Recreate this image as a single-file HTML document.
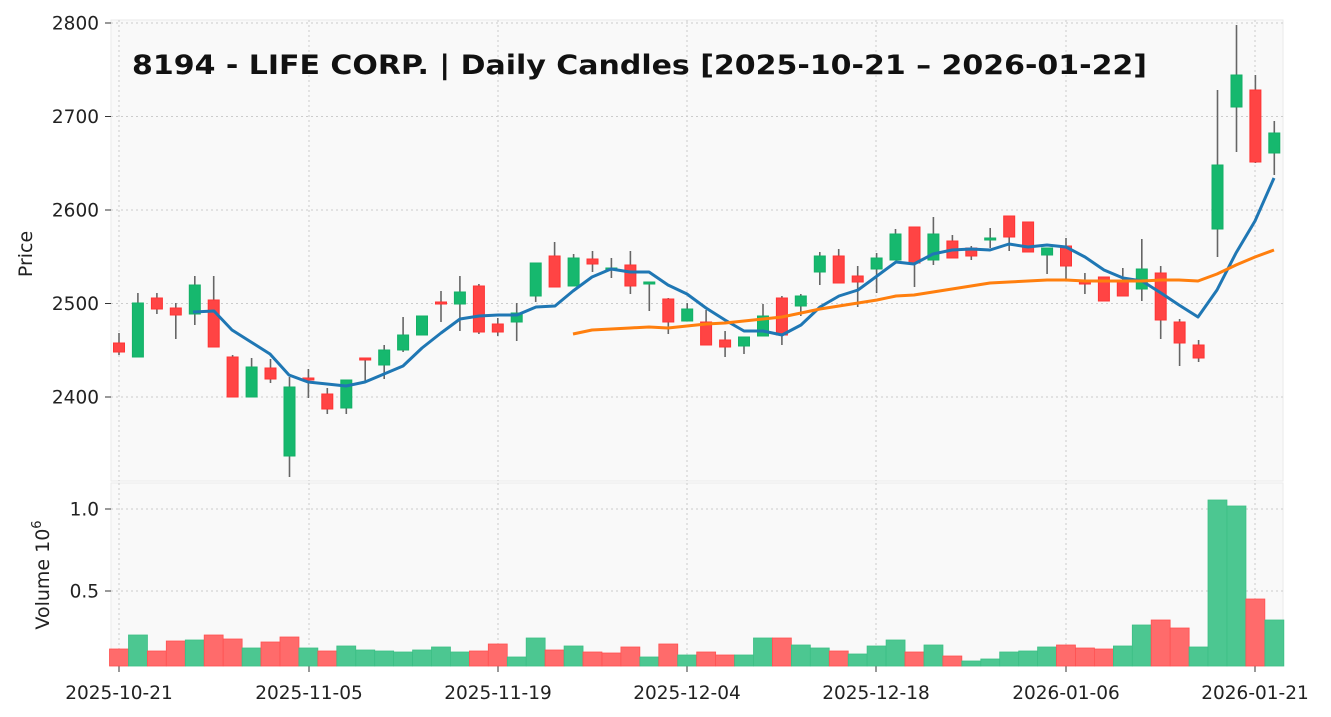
<!DOCTYPE html>
<html><head><meta charset="utf-8"><style>
html,body{margin:0;padding:0;background:#fff;}
svg{display:block;font-family:"DejaVu Sans","Liberation Sans",sans-serif;}
</style></head><body>
<svg id="s" width="1331" height="717" xmlns="http://www.w3.org/2000/svg"></svg>
<script>
var C=[[343,352,333,355,0],[303,357,293,357,1],[298,309,293,314,0],[308,315,303,339,0],[285,314,276,325,1],[300,347,276,347,0],[357,397,355,397,0],[367,397,358,397,1],[368,379,359,383,0],[387,456,377,477,1],[378,380,369,398,0],[394,409,388,414,0],[380,408,380,414,1],[358,360,359,381,0],[350,365,345,379,1],[335,350,317,352,1],[316,335,316,335,1],[302,304,291,322,0],[292,304,276,331,1],[286,332,284,334,0],[324,332,318,336,0],[313,322,303,341,1],[263,296,263,302,1],[256,287,242,287,0],[258,286,254,286,1],[259,264,251,272,0],[268,270,258,278,1],[265,286,251,294,0],[282,284,283,311,1],[299,322,298,334,0],[309,321,303,321,1],[322,345,310,345,0],[340,347,331,357,0],[337,346,337,354,1],[316,336,304,336,1],[298,335,296,345,0],[296,306,294,316,1],[256,272,252,285,1],[256,283,249,283,0],[276,282,266,307,0],[258,269,253,293,1],[234,260,229,260,1],[227,263,227,287,0],[234,260,217,265,1],[241,258,235,258,0],[248,256,246,260,0],[238,240,228,248,1],[216,237,216,251,0],[222,252,222,252,0],[248,255,248,274,1],[246,266,238,280,0],[282,284,273,294,0],[277,301,277,301,0],[281,296,268,296,0],[269,289,239,301,1],[273,320,266,339,0],[322,343,319,366,0],[345,358,340,362,0],[165,229,90,257,1],[75,107,25,152,1],[90,162,75,163,0],[133,153,121,175,1]];
var V=[649,635,651,641,640,635,639,648,642,637,648,651,646,650,651,652,650,647,652,651,644,657,638,650,646,652,653,647,657,644,655,652,655,655,638,638,645,648,651,654,646,640,652,645,656,661,659,652,651,647,645,648,649,646,625,620,628,647,500,506,599,620];
var VC=[0,1,0,0,1,0,0,1,0,0,1,0,1,1,1,1,1,1,1,0,0,1,1,0,1,0,0,0,1,0,1,0,0,1,1,0,1,1,0,1,1,1,0,1,0,1,1,1,1,1,0,0,0,1,1,0,0,1,1,1,0,1];
var B=[[193,312],[214,311],[232,330],[251,342],[270,354],[289,375],[308,382],[327,384],[346,386],[365,382],[384,374],[403,366],[422,348],[441,333],[460,319],[479,316],[498,315],[517,315],[536,307],[555,306],[573,291],[592,277],[611,269],[630,272],[649,272],[668,285],[687,294],[706,308],[725,320],[744,331],[763,331],[782,335],[801,325],[820,307],[839,296],[858,290],[877,276],[896,262],[914,264],[933,254],[952,250],[971,249],[990,250],[1009,244],[1028,247],[1047,245],[1066,247],[1085,257],[1104,270],[1123,278],[1142,281],[1161,293],[1179,305],[1198,317],[1217,290],[1236,253],[1255,221],[1274,178]];
var O=[[573,334],[592,330],[611,329],[630,328],[649,327],[668,328],[687,326],[706,324],[725,323],[744,321],[763,319],[782,317],[801,313],[820,309],[839,306],[858,303],[877,300],[896,296],[914,295],[933,292],[952,289],[971,286],[990,283],[1009,282],[1028,281],[1047,280],[1066,280],[1085,281],[1104,281],[1123,281],[1142,281],[1161,280],[1179,280],[1198,281],[1217,274],[1236,265],[1255,257],[1274,250]];
var h='';
h+='<rect x="111" y="20" width="1172" height="461" fill="#f9f9f9" stroke="#eaeaea"/>';
h+='<rect x="111" y="483" width="1172" height="183" fill="#f9f9f9" stroke="#eaeaea"/>';
var xs=[119,309,498,687,876,1066,1255],xl=['2025-10-21','2025-11-05','2025-11-19','2025-12-04','2025-12-18','2026-01-06','2026-01-21'];
xs.forEach(function(x,i){h+='<line x1="'+x+'" y1="20" x2="'+x+'" y2="481" stroke="#ccc" stroke-dasharray="2,3"/><line x1="'+x+'" y1="483" x2="'+x+'" y2="666" stroke="#ccc" stroke-dasharray="2,3"/><line x1="'+x+'" y1="666" x2="'+x+'" y2="672" stroke="#333"/><text x="'+x+'" y="699" font-size="18.5" text-anchor="middle" fill="#222">'+xl[i]+'</text>';});
[[23,'2800'],[116.5,'2700'],[210,'2600'],[303.5,'2500'],[397,'2400']].forEach(function(t){h+='<line x1="111" y1="'+t[0]+'" x2="1283" y2="'+t[0]+'" stroke="#ccc" stroke-dasharray="2,3"/><line x1="105" y1="'+t[0]+'" x2="111" y2="'+t[0]+'" stroke="#333"/><text x="99" y="'+(t[0]+6.5)+'" font-size="18.5" text-anchor="end" fill="#222">'+t[1]+'</text>';});
[[509,'1.0'],[591,'0.5']].forEach(function(t){h+='<line x1="111" y1="'+t[0]+'" x2="1283" y2="'+t[0]+'" stroke="#ccc" stroke-dasharray="2,3"/><line x1="105" y1="'+t[0]+'" x2="111" y2="'+t[0]+'" stroke="#333"/><text x="99" y="'+(t[0]+6.5)+'" font-size="18.5" text-anchor="end" fill="#222">'+t[1]+'</text>';});
V.forEach(function(y,i){var x=119+18.94*i-9.47;var c=VC[i]==1;h+='<rect x="'+x.toFixed(1)+'" y="'+y+'" width="18.94" height="'+(666-y)+'" fill="'+(c?'#4cc791':'#ff6b6b')+'" stroke="'+(c?'#3cbf85':'#ff5252')+'" stroke-width="0.8"/>';});
C.forEach(function(c,i){var x=119+18.94*i;var col=c[4]?'#16b86e':'#ff4444';h+='<line x1="'+x.toFixed(1)+'" y1="'+c[2]+'" x2="'+x.toFixed(1)+'" y2="'+c[3]+'" stroke="#666" stroke-width="1.6"/>';var hh=Math.max(c[1]-c[0],2);h+='<rect x="'+(x-5.5).toFixed(1)+'" y="'+c[0]+'" width="11" height="'+hh+'" fill="'+col+'" stroke="'+(c[4]?'#13b066':'#f33')+'" stroke-width="1"/>';});
h+='<polyline fill="none" stroke="#1f77b4" stroke-width="3" stroke-linejoin="round" points="'+B.map(function(p){return p.join(',')}).join(' ')+'"/>';
h+='<polyline fill="none" stroke="#ff7f0e" stroke-width="3" stroke-linejoin="round" points="'+O.map(function(p){return p.join(',')}).join(' ')+'"/>';
h+='<text x="132" y="74" font-size="27" font-weight="bold" fill="#111" textLength="1015" lengthAdjust="spacingAndGlyphs">8194 - LIFE CORP. | Daily Candles [2025-10-21 – 2026-01-22]</text>';
h+='<text transform="translate(32,254) rotate(-90)" font-size="19" text-anchor="middle" fill="#222">Price</text>';
h+='<text transform="translate(49,575) rotate(-90)" font-size="19" text-anchor="middle" fill="#222">Volume  10<tspan font-size="13" dy="-8">6</tspan></text>';
document.getElementById('s').innerHTML=h;
</script>
</body></html>
